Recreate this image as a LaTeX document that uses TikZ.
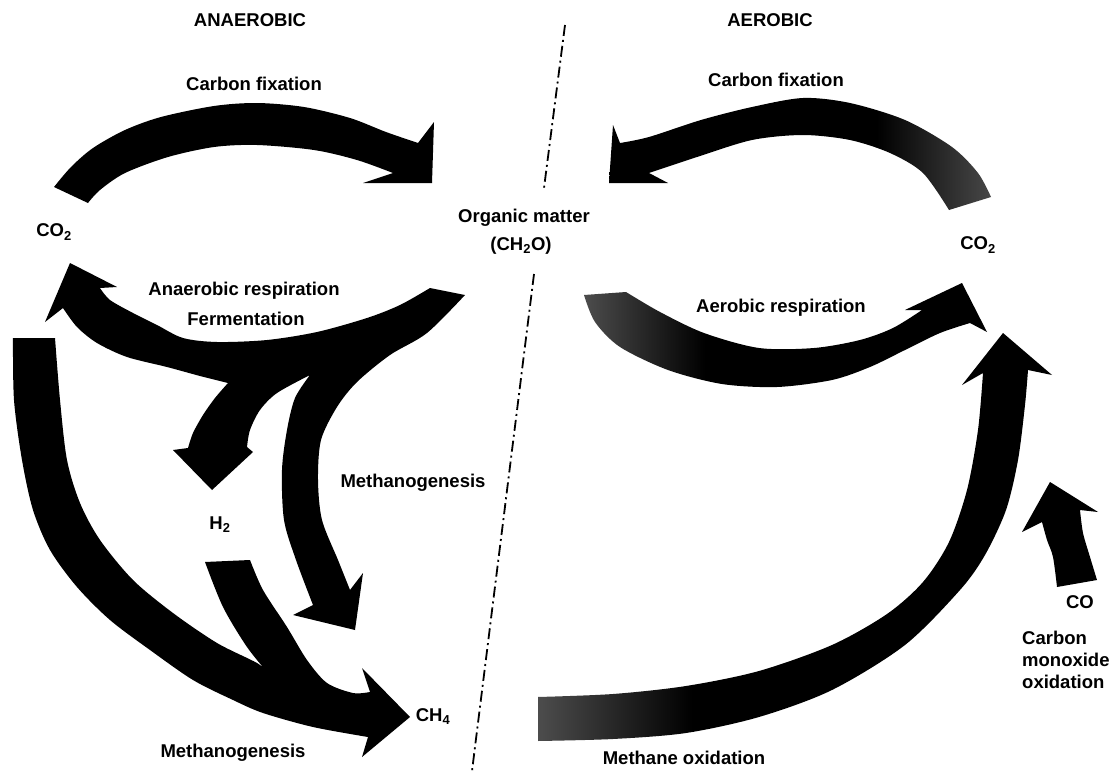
\documentclass[tikz,border=0pt]{standalone}
\usepackage{fontspec}
\setmainfont{Liberation Sans}
\pgfdeclarehorizontalshading{fadeR}{100bp}{color(0bp)=(black); color(25bp)=(black); color(60bp)=(black); color(75bp)=(black!72); color(100bp)=(black!72)}
\pgfdeclarehorizontalshading{fadeL}{100bp}{color(0bp)=(black!70); color(25bp)=(black!70); color(40bp)=(black); color(100bp)=(black)}
\begin{document}
\begin{tikzpicture}[x=1pt,y=-1pt,
  lbl/.style={font=\bfseries\fontsize{18.5}{22}\selectfont, inner sep=0pt},
  band/.style={fill=black},
  divider/.style={line width=1.8pt, dash pattern=on 11pt off 4pt on 2pt off 4pt}]
\useasboundingbox (0,0) rectangle (1112,771);
\fill[white] (0,0) rectangle (1112,771);

% labels
\node[lbl] (anaer) at (250,20) {ANAEROBIC};
\node[lbl] (aer) at (770,20) {AEROBIC};
\node[lbl] (cfixL) at (254,84) {Carbon fixation};
\node[lbl] (cfixR) at (776,80) {Carbon fixation};
\node[lbl] (co2L) at (54,232) {CO\textsubscript{2}};
\node[lbl] (om) at (524,218) {Organic matter};
\node[lbl] (ch2o) at (521,246) {(CH\textsubscript{2}O)};
\node[lbl] (co2R) at (978,245) {CO\textsubscript{2}};
\node[lbl] (anresp) at (244,291) {Anaerobic respiration};
\node[lbl] (ferm) at (246,319) {Fermentation};
\node[lbl] (aeresp) at (781,308) {Aerobic respiration};
\node[lbl] (h2) at (220,525) {H\textsubscript{2}};
\node[lbl] (methR) at (413,483) {Methanogenesis};
\node[lbl] (ch4) at (433,717) {CH\textsubscript{4}};
\node[lbl] (methB) at (233,753) {Methanogenesis};
\node[lbl] (mox) at (684,758) {Methane oxidation};
\node[lbl] (co) at (1080,602) {CO};
\node[lbl, align=left, anchor=west] (cmo) at (1022,660) {Carbon\\monoxide\\oxidation};

% divider
\coordinate (dA) at (565,25);
\coordinate (dB) at (544,188);
\coordinate (dC) at (534,274);
\coordinate (dD) at (472,771);
\draw[divider] (dA) -- (dB);
\draw[divider] (dC) -- (dD);

% anaerobic carbon fixation
\fill[band] plot[smooth] coordinates {(54,187) (71,167) (93,148) (125,130) (161,117) (214,106) (257,103) (304,107) (350,118) (386,132) (418,143)}
  -- (434,122) -- (432,183) -- (363,183) -- (393,173)
  -- plot[smooth] coordinates {(393,173) (357,160) (314,150) (257,145) (214,147) (168,157) (125,173) (100,190) (88,203)} -- cycle;

% anaerobic respiration + branches to H2 and CH4
\fill[band] plot[smooth] coordinates {(430,288) (400,305) (367,318) (317,332) (267,340) (217,342) (183,338) (157,325) (133,313) (110,300) (100,288)}
  -- (117,287) -- (70,263) -- (45,322) -- (63,308)
  -- plot[smooth] coordinates {(63,308) (77,327) (97,343) (127,357) (167,367) (200,376) (228,383)}
  -- plot[smooth] coordinates {(228,383) (215,398) (203,415) (193,433) (188,448)}
  -- (173,450) -- (212,490) -- (253,452) -- (247,447)
  -- plot[smooth] coordinates {(247,447) (250,430) (260,410) (277,393) (310,375)}
  -- plot[smooth] coordinates {(310,375) (295,398) (287,430) (282,470) (284,520) (296,560) (313,605)}
  -- (293,615) -- (355,630) -- (363,573) -- (350,590)
  -- plot[smooth] coordinates {(350,590) (338,560) (322,520) (318,480) (321,440) (337,407) (357,382) (390,355) (427,333) (465,295)} -- cycle;

% methanogenesis from CO2 and from H2
\fill[band] plot[smooth] coordinates {(13,338) (14,400) (22,460) (33,510) (50,550) (77,587) (110,620) (150,650) (193,680) (233,700) (263,713) (313,727) (368,737)}
  -- (362,757) -- (410,717) -- (362,668) -- (370,692)
  -- plot[smooth] coordinates {(370,692) (353,693) (327,683) (307,660) (287,627) (263,590) (250,560)}
  -- (205,562)
  -- plot[smooth] coordinates {(205,562) (223,607) (247,647) (268,673)}
  -- plot[smooth] coordinates {(268,673) (257,663) (217,643) (173,613) (133,580) (100,540) (80,503) (67,460) (60,400) (55,338)} -- cycle;

% aerobic carbon fixation
\shade[shading=fadeR] plot[smooth] coordinates {(991,197) (978,173) (952,147) (905,120) (850,103) (803,98) (752,107) (701,120) (649,137) (620,143)}
  -- (613,125) -- (609,183) -- (668,183) -- (649,173)
  -- plot[smooth] coordinates {(649,173) (697,157) (752,140) (803,135) (850,140) (890,153) (923,173) (949,210)} -- cycle;

% aerobic respiration
\shade[shading=fadeL] plot[smooth] coordinates {(584,295) (595,322) (620,347) (668,370) (722,384) (777,387) (832,380) (870,367) (905,350) (940,333) (970,323)}
  -- (987,332) -- (962,283) -- (905,310) -- (922,310)
  -- plot[smooth] coordinates {(922,310) (893,328) (860,340) (814,348) (759,348) (704,333) (660,312) (626,292)} -- cycle;

% methane oxidation
\shade[shading=fadeL] plot[smooth] coordinates {(538,697) (613,694) (686,686) (759,671) (832,645) (887,614) (923,582) (949,542) (967,490) (978,430) (983,373)}
  -- (962,385) -- (1003,333) -- (1052,375) -- (1028,370)
  -- plot[smooth] coordinates {(1028,370) (1025,405) (1018,460) (1006,510) (985,555) (960,590) (905,645) (832,690) (759,717) (686,733) (613,739) (538,741)} -- cycle;

% carbon monoxide oxidation
\fill[band] plot[smooth] coordinates {(1057,587) (1053,557) (1047,540) (1042,522)}
  -- (1022,532) -- (1050,482) -- (1098,512) -- (1080,510)
  -- plot[smooth] coordinates {(1080,510) (1083,533) (1090,557) (1097,580)} -- cycle;
\end{tikzpicture}
\end{document}
